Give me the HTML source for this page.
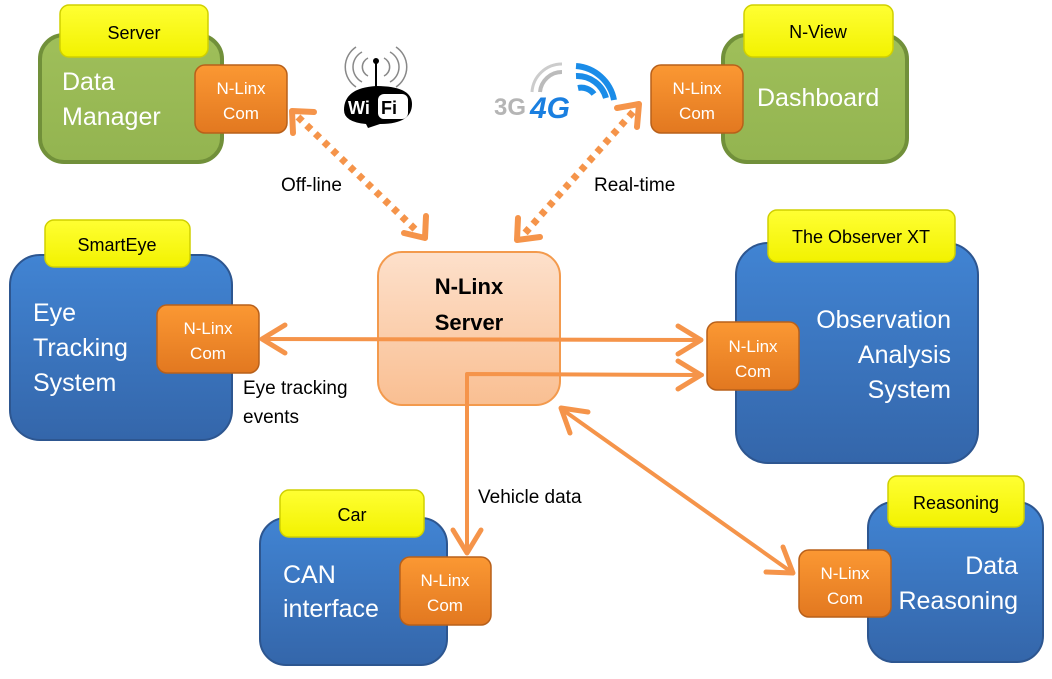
<!DOCTYPE html>
<html><head><meta charset="utf-8"><style>
html,body{margin:0;padding:0;background:#fff;}
svg{display:block;}
text{font-family:"Liberation Sans",sans-serif;}
</style></head><body>
<svg width="1052" height="679" viewBox="0 0 1052 679" xmlns="http://www.w3.org/2000/svg">
<defs>
<linearGradient id="gG" x1="0" y1="0" x2="0" y2="1"><stop offset="0" stop-color="#9fbf5a"/><stop offset="1" stop-color="#93b450"/></linearGradient>
<linearGradient id="bG" x1="0" y1="0" x2="0" y2="1"><stop offset="0" stop-color="#4184d3"/><stop offset="1" stop-color="#3466aa"/></linearGradient>
<linearGradient id="oG" x1="0" y1="0" x2="0" y2="1"><stop offset="0" stop-color="#fb9833"/><stop offset="1" stop-color="#e27820"/></linearGradient>
<linearGradient id="yG" x1="0" y1="0" x2="0" y2="1"><stop offset="0" stop-color="#ffff33"/><stop offset="1" stop-color="#f2f200"/></linearGradient>
<linearGradient id="sG" x1="0" y1="0" x2="0" y2="1"><stop offset="0" stop-color="#fde0cb"/><stop offset="1" stop-color="#f9bf92"/></linearGradient>
</defs>

<!-- Green boxes -->
<rect x="40" y="35" width="182" height="127" rx="24" fill="url(#gG)" stroke="#71903a" stroke-width="4"/>
<rect x="60" y="5" width="148" height="52" rx="9" fill="url(#yG)" stroke="#d0d000" stroke-width="1.5"/>
<text x="134" y="39" font-size="18" text-anchor="middle">Server</text>
<text x="62" y="90" font-size="25" fill="#fff">Data</text>
<text x="62" y="125" font-size="25" fill="#fff">Manager</text>

<rect x="723" y="35" width="184" height="127" rx="24" fill="url(#gG)" stroke="#71903a" stroke-width="4"/>
<rect x="744" y="5" width="149" height="52" rx="9" fill="url(#yG)" stroke="#d0d000" stroke-width="1.5"/>
<text x="818" y="38" font-size="18" text-anchor="middle">N-View</text>
<text x="757" y="106" font-size="25" fill="#fff">Dashboard</text>

<!-- Blue boxes -->
<rect x="10" y="255" width="222" height="185" rx="30" fill="url(#bG)" stroke="#2d5690" stroke-width="2"/>
<rect x="45" y="220" width="145" height="47" rx="9" fill="url(#yG)" stroke="#d0d000" stroke-width="1.5"/>
<text x="117" y="251" font-size="18" text-anchor="middle">SmartEye</text>
<text x="33" y="321" font-size="25" fill="#fff">Eye</text>
<text x="33" y="356" font-size="25" fill="#fff">Tracking</text>
<text x="33" y="391" font-size="25" fill="#fff">System</text>

<rect x="736" y="243" width="242" height="220" rx="32" fill="url(#bG)" stroke="#2d5690" stroke-width="2"/>
<rect x="768" y="210" width="187" height="52" rx="9" fill="url(#yG)" stroke="#d0d000" stroke-width="1.5"/>
<text x="861" y="243" font-size="18" text-anchor="middle">The Observer XT</text>
<text x="951" y="328" font-size="25" fill="#fff" text-anchor="end">Observation</text>
<text x="951" y="363" font-size="25" fill="#fff" text-anchor="end">Analysis</text>
<text x="951" y="398" font-size="25" fill="#fff" text-anchor="end">System</text>

<rect x="260" y="518" width="187" height="147" rx="26" fill="url(#bG)" stroke="#2d5690" stroke-width="2"/>
<rect x="280" y="490" width="144" height="47" rx="9" fill="url(#yG)" stroke="#d0d000" stroke-width="1.5"/>
<text x="352" y="521" font-size="18" text-anchor="middle">Car</text>
<text x="283" y="583" font-size="25" fill="#fff">CAN</text>
<text x="283" y="617" font-size="25" fill="#fff">interface</text>

<rect x="868" y="502" width="175" height="160" rx="26" fill="url(#bG)" stroke="#2d5690" stroke-width="2"/>
<rect x="888" y="476" width="136" height="51" rx="9" fill="url(#yG)" stroke="#d0d000" stroke-width="1.5"/>
<text x="956" y="509" font-size="18" text-anchor="middle">Reasoning</text>
<text x="1018" y="574" font-size="25" fill="#fff" text-anchor="end">Data</text>
<text x="1018" y="609" font-size="25" fill="#fff" text-anchor="end">Reasoning</text>

<!-- Server -->
<rect x="378" y="252" width="182" height="153" rx="24" fill="url(#sG)" stroke="#f39a4d" stroke-width="2"/>
<text x="469" y="294" font-size="22" font-weight="bold" text-anchor="middle">N-Linx</text>
<text x="469" y="330" font-size="22" font-weight="bold" text-anchor="middle">Server</text>

<!-- N-Linx Com boxes -->
<g font-size="17" fill="#fff" text-anchor="middle">
<rect x="195" y="65" width="92" height="68" rx="10" fill="url(#oG)" stroke="#b8601a" stroke-width="1.5"/>
<text x="241" y="94">N-Linx</text><text x="241" y="119">Com</text>
<rect x="651" y="65" width="92" height="68" rx="10" fill="url(#oG)" stroke="#b8601a" stroke-width="1.5"/>
<text x="697" y="94">N-Linx</text><text x="697" y="119">Com</text>
<rect x="157" y="305" width="102" height="68" rx="10" fill="url(#oG)" stroke="#b8601a" stroke-width="1.5"/>
<text x="208" y="334">N-Linx</text><text x="208" y="359">Com</text>
<rect x="707" y="322" width="92" height="68" rx="10" fill="url(#oG)" stroke="#b8601a" stroke-width="1.5"/>
<text x="753" y="352">N-Linx</text><text x="753" y="377">Com</text>
<rect x="400" y="557" width="91" height="68" rx="10" fill="url(#oG)" stroke="#b8601a" stroke-width="1.5"/>
<text x="445" y="586">N-Linx</text><text x="445" y="611">Com</text>
<rect x="799" y="550" width="92" height="67" rx="10" fill="url(#oG)" stroke="#b8601a" stroke-width="1.5"/>
<text x="845" y="579">N-Linx</text><text x="845" y="604">Com</text>
</g>

<!-- Connectors -->
<g stroke="#f5944a" stroke-width="5" fill="none" stroke-linecap="round" stroke-linejoin="round">
<line x1="298" y1="117" x2="419" y2="233" stroke-dasharray="6 6" stroke-width="7" stroke-linecap="butt"/>
<polyline points="293,133 292,111 314,112" stroke-width="6"/>
<polyline points="404,233 425,238 426,216" stroke-width="6"/>
<line x1="633" y1="112" x2="525" y2="233" stroke-dasharray="6 6" stroke-width="7" stroke-linecap="butt"/>
<polyline points="617,108 639,104 637,127" stroke-width="6"/>
<polyline points="518,218 517,240 540,237" stroke-width="6"/>
<line x1="264" y1="339" x2="700" y2="340" stroke-width="4"/>
<polyline points="285,325 262,339 285,353"/>
<polyline points="678,326 701,340 678,354"/>
<polyline points="702,375 467,374 467,552" stroke-width="4"/>
<polyline points="678,361 701,375 678,389"/>
<polyline points="453,530 467,553 481,530"/>
<line x1="563" y1="410" x2="790" y2="571" stroke-width="4"/>
<polyline points="588,412 561,408 570,433"/>
<polyline points="783,547 793,573 766,572"/>
</g>

<!-- Labels -->
<g font-size="19" fill="#000">
<text x="281" y="191">Off-line</text>
<text x="594" y="191">Real-time</text>
<text x="243" y="394">Eye tracking</text>
<text x="243" y="423">events</text>
<text x="478" y="503">Vehicle data</text>
</g>

<!-- WiFi icon -->
<g>
<path d="M368 58 a10 10 0 0 0 0 18 M362 52 a17 17 0 0 0 0 30 M356 47 a24 24 0 0 0 0 40" stroke="#888" stroke-width="1.5" fill="none"/>
<path d="M384 58 a10 10 0 0 1 0 18 M390 52 a17 17 0 0 1 0 30 M396 47 a24 24 0 0 1 0 40" stroke="#888" stroke-width="1.5" fill="none"/>
<circle cx="376" cy="61" r="3" fill="#000"/>
<line x1="376" y1="61" x2="376" y2="90" stroke="#000" stroke-width="2"/>
<path d="M344 110 Q344 88 376 86 Q412 86 412 104 Q412 124 380 124 L368 128 L366 124 Q344 122 344 110 Z" fill="#000"/>
<text x="348" y="114" font-size="18" font-weight="bold" fill="#fff">Wi</text>
<rect x="378" y="94" width="30" height="25" rx="6" fill="#fff"/>
<text x="381" y="114" font-size="18" font-weight="bold" fill="#000">Fi</text>
</g>

<!-- 3G 4G icon -->
<g>
<path d="M540 92 a22 22 0 0 1 22 -20" stroke="#bbb" stroke-width="4" fill="none"/>
<path d="M532 92 a30 30 0 0 1 30 -28" stroke="#ccc" stroke-width="3" fill="none"/>
<path d="M578 88 a16 16 0 0 1 16 6" stroke="#1a8ce8" stroke-width="6" fill="none"/>
<path d="M576 76 a30 30 0 0 1 30 22" stroke="#1a8ce8" stroke-width="6" fill="none"/>
<path d="M576 66 a42 42 0 0 1 38 34" stroke="#1a8ce8" stroke-width="6" fill="none"/>
<text x="494" y="115" font-size="24" font-weight="bold" fill="#b5b5b5">3G</text>
<text x="530" y="118" font-size="30" font-weight="bold" font-style="italic" fill="#1a7fe0">4G</text>
</g>
</svg>
</body></html>
